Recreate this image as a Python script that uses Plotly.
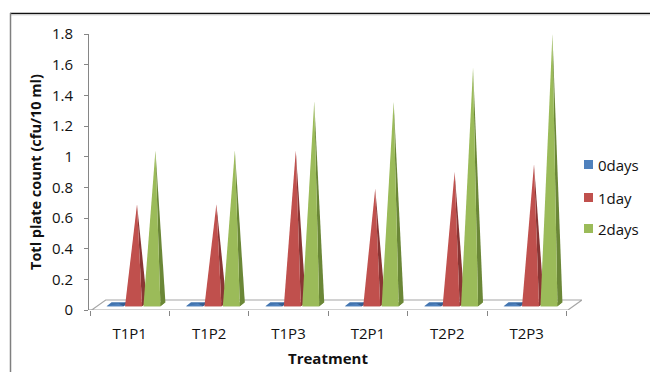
import plotly.graph_objects as go

# ---------------- data ----------------
categories = ["T1P1", "T1P2", "T1P3", "T2P1", "T2P2", "T2P3"]
series_names = ["0days", "1day", "2days"]
days0 = [0, 0, 0, 0, 0, 0]
days1 = [0.65, 0.65, 1.0, 0.75, 0.86, 0.91]
days2 = [1.0, 1.0, 1.32, 1.32, 1.54, 1.76]
y_tick_vals = [0, 0.2, 0.4, 0.6, 0.8, 1.0, 1.2, 1.4, 1.6, 1.8]
y_tick_text = ["0", "0.2", "0.4", "0.6", "0.8", "1", "1.2", "1.4", "1.6", "1.8"]

series_values = [days0, days1, days2]

# ---------------- style / layout ----------------
W, H = 650, 372
L, R, T, B = 89, 68, 34, 62
PW, PH = W - L - R, H - T - B
CAT_PX = 79.4          # pixels per category
X0_PX = 90             # pixel of first category boundary
YMAX = 1.8
Y_PX = PH / YMAX

FONT = "Open Sans"
TXT = "#111111"
AXC = "#868686"

front_col = ["#4F81BD", "#C0504D", "#9BBB59"]
side_col = ["#365F91", "#8A3634", "#6B8737"]
base_col = ["#4274AF", "#9E4340", "#7F9D45"]

# pyramid geometry (data units)
offs = [-0.184, 0.048, 0.28]
hw = 0.107
bdx = 5 / CAT_PX
y_front = 0.025
y_back = 0.05
apex_dx = 0.044
apex_dy = 0.04


def pxx(px):
    return (px - L) / PW


def pxy(py):
    return (H - B - py) / PH


fig = go.Figure()

for j, vals in enumerate(series_values):
    for i, v in enumerate(vals):
        cx = i + 0.5 + offs[j]
        # base square
        fig.add_trace(go.Scatter(
            x=[cx - hw, cx + hw, cx + hw + bdx, cx - hw + bdx, cx - hw],
            y=[y_front, y_front, y_back, y_back, y_front],
            fill="toself", fillcolor=base_col[j], mode="lines",
            line=dict(width=0), hoverinfo="skip", showlegend=False))
        ax = cx + apex_dx
        ay = v + apex_dy
        # side face
        fig.add_trace(go.Scatter(
            x=[cx + hw, cx + hw + bdx, ax, cx + hw],
            y=[y_front, y_back, ay, y_front],
            fill="toself", fillcolor=side_col[j], mode="lines",
            line=dict(width=0), hoverinfo="skip", showlegend=False))
        # front face
        fig.add_trace(go.Scatter(
            x=[cx - hw, cx + hw, ax, cx - hw],
            y=[y_front, y_front, ay, y_front],
            fill="toself", fillcolor=front_col[j], mode="lines",
            line=dict(width=0), hoverinfo="skip", showlegend=False,
            name=f"{series_names[j]} {categories[i]}"))

# floor (3D base plane)
fx0 = (91.7 - X0_PX) / CAT_PX
fx1 = (568 - X0_PX) / CAT_PX
fdx = 14 / CAT_PX
fdy = 10 / Y_PX
shapes = [
    dict(type="path", xref="x", yref="y", layer="below",
         path=f"M {fx0},0 L {fx1},0 L {fx1+fdx},{fdy} L {fx0+fdx},{fdy} Z",
         line=dict(color="#A6A6A6", width=1.2), fillcolor="rgba(255,255,255,0)"),
    dict(type="line", xref="paper", yref="y", x0=0, x1=pxx(91.7), y0=0, y1=0,
         line=dict(color=AXC, width=1)),
    # chart frame
    dict(type="line", xref="paper", yref="paper", x0=pxx(10), x1=pxx(650),
         y0=pxy(13.5), y1=pxy(13.5), line=dict(color="#111111", width=1.5)),
    dict(type="line", xref="paper", yref="paper", x0=pxx(10), x1=pxx(650),
         y0=pxy(15), y1=pxy(15), line=dict(color="#D9D9D9", width=1)),
    dict(type="line", xref="paper", yref="paper", x0=pxx(10.5), x1=pxx(10.5),
         y0=pxy(13), y1=pxy(372), line=dict(color="#7F7F7F", width=1.5)),
]

# manual legend
annotations = []
leg_y = [164.5, 197.5, 228.5]
for j, name in enumerate(series_names):
    shapes.append(dict(type="rect", xref="paper", yref="paper",
                       x0=pxx(584), x1=pxx(593), y0=pxy(leg_y[j] - 4.5), y1=pxy(leg_y[j] + 4.5),
                       fillcolor=front_col[j], line=dict(width=0)))
    annotations.append(dict(text=name, xref="paper", yref="paper", x=pxx(596), y=pxy(leg_y[j]),
                            xanchor="left", yanchor="middle", showarrow=False,
                            font=dict(family=FONT, size=15, color=TXT)))

annotations.append(dict(text="<b>Totl plate count (cfu/10 ml)</b>", xref="paper", yref="paper",
                        x=pxx(35), y=pxy(172), textangle=-90, xanchor="center", yanchor="middle",
                        showarrow=False, font=dict(family=FONT, size=14.5, color=TXT)))
annotations.append(dict(text="<b>Treatment</b>", xref="paper", yref="paper",
                        x=pxx(328), y=pxy(358), xanchor="center", yanchor="middle",
                        showarrow=False, font=dict(family=FONT, size=15, color=TXT)))

fig.update_layout(
    width=W, height=H,
    margin=dict(l=L, r=R, t=T, b=B, autoexpand=False),
    paper_bgcolor="white", plot_bgcolor="white",
    showlegend=False,
    shapes=shapes, annotations=annotations,
    xaxis=dict(range=[(L - X0_PX) / CAT_PX, (W - R - X0_PX) / CAT_PX],
               showgrid=False, zeroline=False, showline=False,
               tickmode="array", tickvals=[i + 0.5 for i in range(len(categories))],
               ticktext=categories, ticks="", ticklabelstandoff=13,
               tickfont=dict(family=FONT, size=15, color=TXT),
               minor=dict(tickmode="array", tickvals=list(range(len(categories) + 1)),
                          ticks="outside", ticklen=5, tickcolor=AXC, tickwidth=1),
               fixedrange=True),
    yaxis=dict(range=[0, YMAX], showgrid=False, zeroline=False,
               showline=True, linecolor=AXC, linewidth=1,
               tickmode="array", tickvals=y_tick_vals, ticktext=y_tick_text,
               ticks="outside", ticklen=4, tickcolor=AXC,
               ticklabelstandoff=8,
               tickfont=dict(family=FONT, size=15, color=TXT),
               fixedrange=True),
)

fig.write_html("out.html")
